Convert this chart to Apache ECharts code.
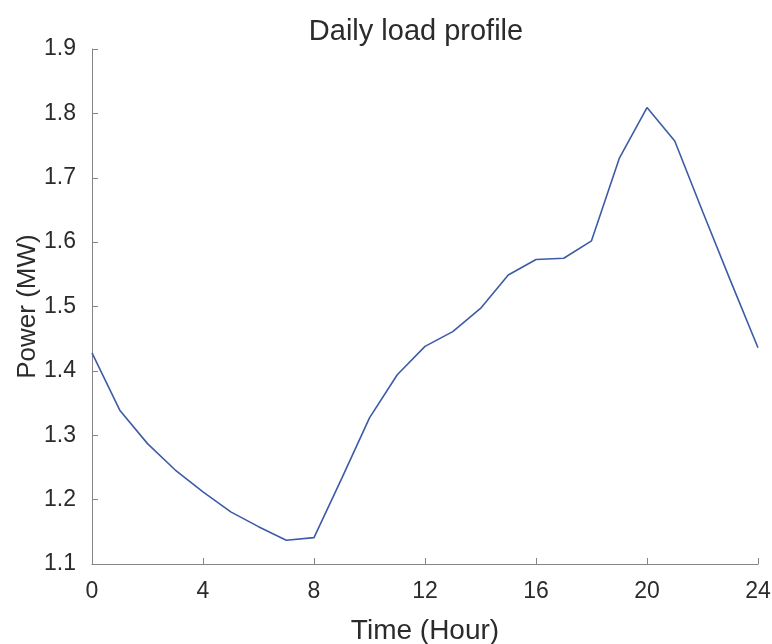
<!DOCTYPE html>
<html>
<head>
<meta charset="utf-8">
<script src="https://cdn.jsdelivr.net/npm/echarts@6/dist/echarts.min.js"></script>
<style>
  html, body { margin: 0; padding: 0; background: #fff; }
  #chart { width: 772px; height: 644px; }
</style>
</head>
<body>
<div id="chart"></div>
<script>
// Hourly load, 0..24 h
const hours = [0, 1, 2, 3, 4, 5, 6, 7, 8, 9, 10, 11, 12, 13, 14, 15, 16, 17, 18, 19, 20, 21, 22, 23, 24];
const powerMW = [1.428, 1.339, 1.287, 1.246, 1.212, 1.181, 1.158, 1.137, 1.141, 1.233, 1.327,
                 1.394, 1.438, 1.461, 1.497, 1.549, 1.573, 1.575, 1.602, 1.730, 1.809, 1.757,
                 1.648, 1.541, 1.436];
const xTicks = [0, 4, 8, 12, 16, 20, 24];
const yTicks = [1.1, 1.2, 1.3, 1.4, 1.5, 1.6, 1.7, 1.8, 1.9];

const chart = echarts.init(document.getElementById('chart'));
const font = 'Liberation Sans, Arial, Helvetica, sans-serif';
const axisGray = '#858585';
const textColor = '#2b2b2b';

chart.setOption({
  animation: false,
  backgroundColor: '#ffffff',
  title: {
    text: 'Daily load profile',
    left: 411,
    top: 12,
    textAlign: 'center',
    textStyle: { fontFamily: font, fontSize: 29, fontWeight: 'normal', color: textColor }
  },
  grid: { left: 92, right: 14, top: 49, bottom: 80, containLabel: false, outerBoundsMode: 'none' },
  xAxis: {
    type: 'value',
    min: xTicks[0],
    max: xTicks[xTicks.length - 1],
    interval: xTicks[1] - xTicks[0],
    name: 'Time (Hour)',
    nameLocation: 'middle',
    nameGap: 53,
    nameMoveOverlap: false,
    nameTextStyle: { fontFamily: font, fontSize: 28, color: textColor },
    axisLine: { lineStyle: { color: axisGray, width: 1 } },
    axisTick: { inside: true, length: 6, lineStyle: { color: axisGray } },
    axisLabel: { fontFamily: font, fontSize: 23, color: textColor, margin: 16 },
    splitLine: { show: false }
  },
  yAxis: {
    type: 'value',
    min: yTicks[0],
    max: yTicks[yTicks.length - 1],
    interval: 0.1,
    name: 'Power (MW)',
    nameLocation: 'middle',
    nameGap: 51,
    nameMoveOverlap: false,
    nameRotate: 90,
    nameTextStyle: { fontFamily: font, fontSize: 26, color: textColor },
    axisLine: { show: true, lineStyle: { color: axisGray, width: 1 } },
    axisTick: { show: true, inside: true, length: 6, lineStyle: { color: axisGray } },
    axisLabel: {
      fontFamily: font, fontSize: 23, color: textColor, margin: 16,
      formatter: v => v.toFixed(1)
    },
    splitLine: { show: false }
  },
  series: [{
    type: 'line',
    data: hours.map((h, i) => [h, powerMW[i]]),
    showSymbol: false,
    lineStyle: { color: '#3d5ba6', width: 1.6 },
    itemStyle: { color: '#3d5ba6' }
  }]
});
</script>
</body>
</html>
